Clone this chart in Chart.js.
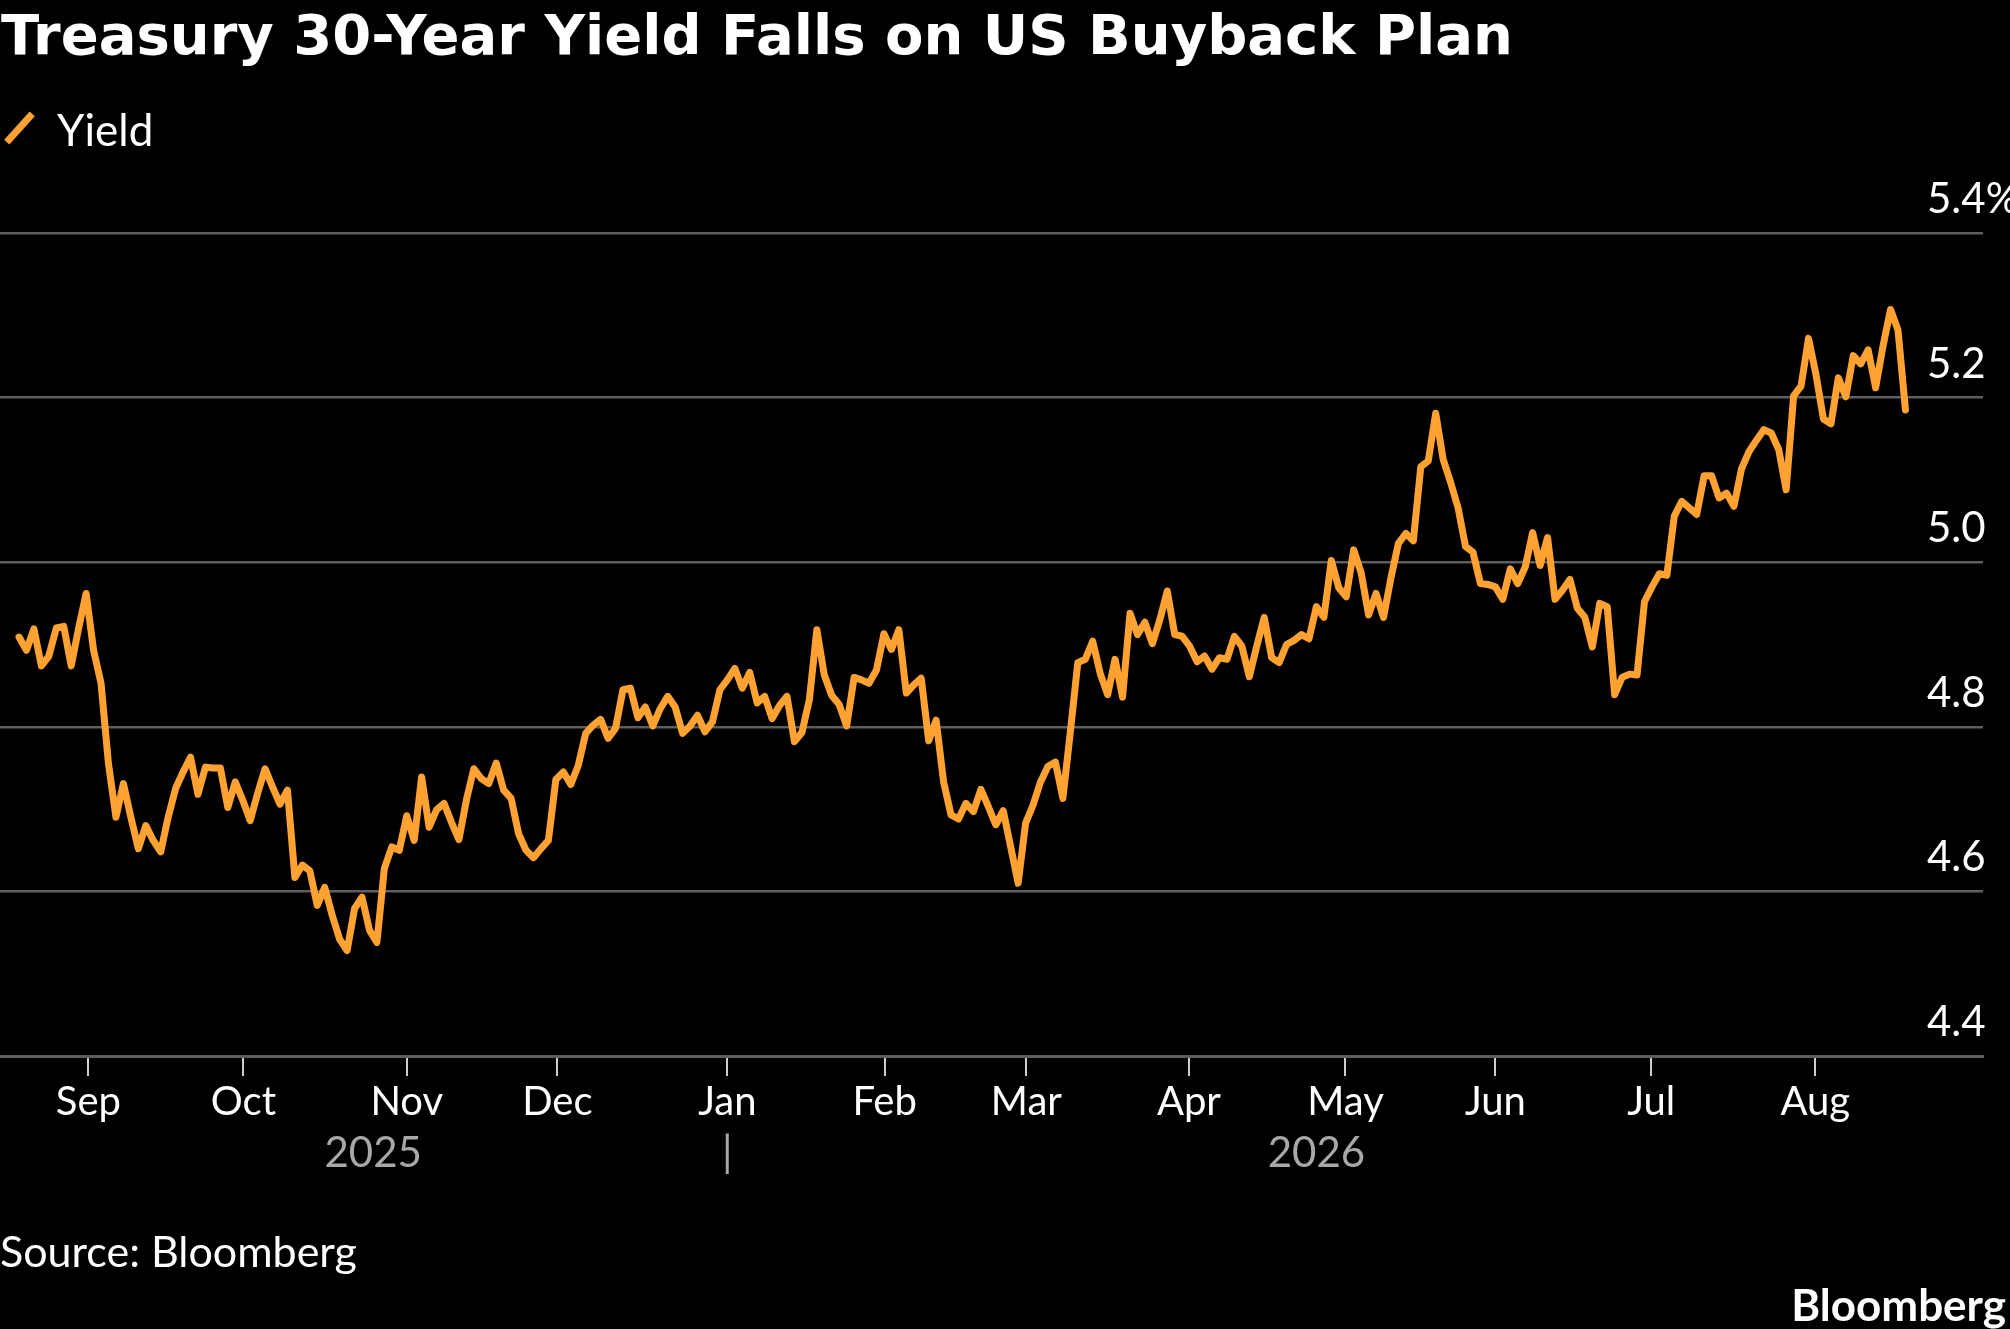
<!DOCTYPE html>
<html>
<head>
<meta charset="utf-8">
<script src="https://cdn.jsdelivr.net/npm/chart.js@4.4.1/dist/chart.umd.min.js"></script>
<style>
  html, body { margin: 0; padding: 0; background: #000; width: 2010px; height: 1329px; overflow: hidden; }
  #wrap { position: relative; width: 2010px; height: 1329px; background: #000; }
  canvas { position: absolute; left: 0; top: 0; }
  .txt { position: absolute; color: #fff; white-space: nowrap; line-height: 1; }
  #title { left: 1px; top: 2px; font: bold 56px "DejaVu Sans"; }
  #legendText { left: 57px; top: 102.5px; font: 44px Lato; }
  #legendMark { position: absolute; left: 15.5px; top: 108.5px; width: 7px; height: 38px; background: #ffa232; transform: rotate(42deg); }
  #source { left: 0; top: 1224.7px; font: 43px Lato; }
  #logo { right: 4px; top: 1277.5px; font: bold 44px Lato; }
</style>
</head>
<body>
<div id="wrap">
  <canvas id="c" width="2010" height="1329"></canvas>
  <div class="txt" id="title">Treasury 30-Year Yield Falls on US Buyback Plan</div>
  <div id="legendMark"></div>
  <div class="txt" id="legendText">Yield</div>
  <div class="txt" id="source">Source: Bloomberg</div>
  <div class="txt" id="logo">Bloomberg</div>
</div>
<script>
// ---- Data (daily 30-year Treasury yield, %, one value per trading day) ----
const seriesName = 'Yield';
const yieldValues = [
  4.909, 4.893, 4.919, 4.874, 4.886, 4.920, 4.922, 4.874, 4.920, 4.962,
  4.893, 4.853, 4.755, 4.690, 4.731, 4.690, 4.652, 4.680, 4.662, 4.648,
  4.690, 4.725, 4.745, 4.763, 4.718, 4.751, 4.750, 4.750, 4.702, 4.733,
  4.711, 4.686, 4.719, 4.749, 4.727, 4.706, 4.723, 4.617, 4.632, 4.625,
  4.583, 4.605, 4.571, 4.542, 4.528, 4.579, 4.593, 4.553, 4.538, 4.628,
  4.654, 4.650, 4.692, 4.662,
  4.739, 4.678, 4.699, 4.707, 4.684, 4.663, 4.711, 4.749, 4.737, 4.731,
  4.756, 4.723, 4.713, 4.670, 4.650, 4.641, 4.652, 4.662, 4.736, 4.745,
  4.730, 4.753, 4.792, 4.802, 4.809, 4.786, 4.798, 4.845, 4.847, 4.811,
  4.824, 4.801, 4.822, 4.837, 4.824, 4.792, 4.801, 4.814, 4.794, 4.806,
  4.845, 4.857, 4.871, 4.847, 4.866, 4.829, 4.837, 4.810, 4.826, 4.837,
  4.782, 4.793, 4.833, 4.918,
  4.863, 4.838, 4.827, 4.801, 4.860, 4.857, 4.853, 4.869, 4.913, 4.894,
  4.918, 4.841, 4.851, 4.859, 4.783, 4.808, 4.733, 4.693, 4.688, 4.707,
  4.697, 4.724, 4.703, 4.681, 4.698, 4.654, 4.610, 4.683, 4.705, 4.733,
  4.752, 4.757, 4.713, 4.794, 4.878, 4.882, 4.904, 4.865, 4.839, 4.882,
  4.836, 4.938, 4.912, 4.927, 4.901, 4.930, 4.965, 4.912, 4.910, 4.898,
  4.879, 4.886, 4.870, 4.884, 4.882,
  4.910, 4.898, 4.861, 4.898, 4.933, 4.884, 4.878, 4.900, 4.905, 4.912,
  4.907, 4.946, 4.933, 5.002, 4.969, 4.958, 5.015, 4.987, 4.936, 4.962,
  4.933, 4.981, 5.023, 5.035, 5.026, 5.116, 5.123, 5.181, 5.125, 5.097,
  5.066, 5.019, 5.012, 4.974, 4.973, 4.970, 4.955, 4.992, 4.974, 4.994,
  5.036, 4.996, 5.030, 4.955, 4.966, 4.979, 4.944, 4.933, 4.897, 4.950,
  4.946, 4.839, 4.860, 4.864, 4.863,
  4.952, 4.970, 4.986, 4.984, 5.056, 5.074, 5.066, 5.058, 5.105, 5.105,
  5.078, 5.084, 5.068, 5.113, 5.134, 5.148, 5.161, 5.157, 5.137, 5.088,
  5.202, 5.214, 5.272, 5.228, 5.174, 5.168, 5.224, 5.201, 5.251, 5.241,
  5.258, 5.212, 5.263, 5.307, 5.282, 5.185
];

// Month boundaries expressed in trading-day index of the series
const monthLabels = ['Sep', 'Oct', 'Nov', 'Dec', 'Jan', 'Feb', 'Mar', 'Apr', 'May', 'Jun', 'Jul', 'Aug'];
const monthTickPos = [9.3, 30.1, 52.0, 72.2, 95.0, 116.1, 135.1, 156.9, 177.9, 198.0, 218.9, 240.9];

// Year labels: each centred over its part of the series, split at January
const yearLabels = ['2025', '2026'];
const yearSplitMonth = 'Jan';

// Value axis
const yMin = 4.4, yMax = 5.4, yStep = 0.2;
const xRange = [-2.55, 263.4];

// ---- Styles ----
const ORANGE = '#ffa232';
const GRID = '#5e5e5e';

const overlayPlugin = {
  id: 'overlay',
  afterDraw(chart) {
    const { ctx, chartArea, scales } = chart;
    const x = scales.x, y = scales.y;
    ctx.save();
    // value labels above each grid line, at right
    ctx.font = '42px Lato';
    ctx.fillStyle = '#ffffff';
    ctx.textAlign = 'left';
    ctx.textBaseline = 'alphabetic';
    y.ticks.forEach(t => {
      const v = Math.round(t.value * 10) / 10;
      const label = v.toFixed(1) + (Math.abs(v - yMax) < 1e-9 ? '%' : '');
      ctx.fillText(label, chartArea.right - 56, y.getPixelForValue(t.value) - 20);
    });
    // year labels
    const splitPos = monthTickPos[monthLabels.indexOf(yearSplitMonth)];
    const spans = [[0, splitPos], [splitPos, yieldValues.length - 1]];
    ctx.font = '42px Lato';
    ctx.fillStyle = '#a8a8a8';
    ctx.textAlign = 'center';
    const yb = chartArea.bottom + 111;
    yearLabels.forEach((lab, i) => {
      const c = (spans[i][0] + spans[i][1]) / 2;
      ctx.fillText(lab, x.getPixelForValue(c), yb);
    });
    ctx.fillText('|', x.getPixelForValue(splitPos), yb);
    ctx.restore();
  }
};

function draw() {
  const ctx = document.getElementById('c').getContext('2d');
  new Chart(ctx, {
    type: 'line',
    data: {
      datasets: [{
        label: seriesName,
        data: yieldValues.map((v, i) => ({ x: i, y: v })),
        borderColor: ORANGE,
        backgroundColor: ORANGE,
        borderWidth: 7,
        borderJoinStyle: 'round',
        borderCapStyle: 'round',
        pointRadius: 0,
        pointHoverRadius: 0,
        tension: 0,
        fill: false
      }]
    },
    options: {
      responsive: false,
      devicePixelRatio: 1,
      animation: false,
      events: [],
      layout: { padding: { top: 233, right: 27, left: 0, bottom: 0 } },
      plugins: { legend: { display: false }, tooltip: { enabled: false }, title: { display: false } },
      scales: {
        x: {
          type: 'linear',
          position: 'bottom',
          min: xRange[0],
          max: xRange[1],
          afterBuildTicks: (s) => { s.ticks = monthTickPos.map(v => ({ value: v })); },
          afterFit: (s) => { s.height = 273; },
          ticks: {
            autoSkip: false,
            maxRotation: 0,
            minRotation: 0,
            padding: 2,
            color: '#ffffff',
            font: { family: 'Lato', size: 40 },
            callback: (value, index) => monthLabels[index]
          },
          grid: {
            drawOnChartArea: false,
            drawTicks: true,
            tickLength: 20,
            tickColor: '#cfcfcf',
            tickWidth: 2,
            lineWidth: 2
          },
          border: { display: true, color: GRID, width: 3 }
        },
        y: {
          type: 'linear',
          position: 'right',
          min: yMin,
          max: yMax,
          ticks: { display: false, stepSize: yStep },
          grid: { color: GRID, lineWidth: 2.5, drawTicks: false },
          border: { display: false }
        }
      }
    },
    plugins: [overlayPlugin]
  });
}

Promise.all([
  document.fonts.load('40px Lato'),
  document.fonts.load('bold 44px Lato'),
  document.fonts.load('bold 56px "DejaVu Sans"')
]).then(draw, draw);
</script>
</body>
</html>
